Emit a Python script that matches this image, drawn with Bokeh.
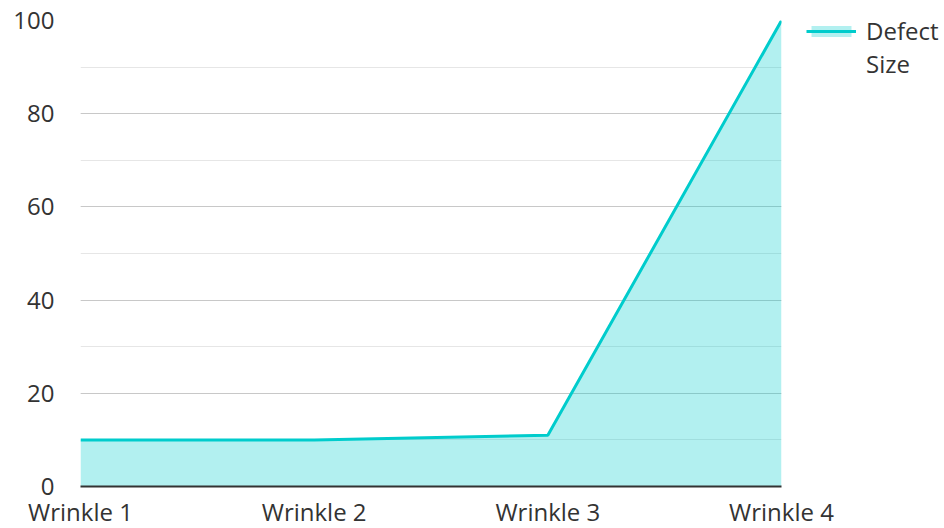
from bokeh.plotting import figure
from bokeh.models import Range1d, FixedTicker, SingleIntervalTicker, Legend, LegendItem, ColumnDataSource
from bokeh.embed import file_html
from bokeh.resources import INLINE

categories = ["Wrinkle 1", "Wrinkle 2", "Wrinkle 3", "Wrinkle 4"]
defect_size = [10, 10, 11, 100]
legend_words = ["Defect", "Size"]

xs = list(range(len(categories)))
src = ColumnDataSource(dict(x=xs, y=defect_size, y0=[0] * len(xs)))

LINE = "#00cccc"
FONT = "Open Sans"

p = figure(frame_width=701, frame_height=466, output_backend="svg", toolbar_location=None,
           x_range=Range1d(0, len(categories) - 1), y_range=Range1d(0, 100),
           min_border_left=80, min_border_top=20, min_border_bottom=42, min_border_right=160)
p.outline_line_color = None
p.background_fill_color = "white"

area = p.varea(x="x", y1="y0", y2="y", source=src, fill_color=LINE, fill_alpha=0.3)
line = p.line(x="x", y="y", source=src, line_color=LINE, line_width=3)
# invisible renderer carrying the wrapped second line of the legend label
blank = p.line(x=[], y=[], line_alpha=0)

p.xaxis.ticker = FixedTicker(ticks=xs)
p.xaxis.major_label_overrides = {i: c for i, c in enumerate(categories)}
p.xaxis.axis_line_color = "#333333"
p.xaxis.axis_line_width = 2
p.xaxis.major_tick_line_color = None
p.xaxis.minor_tick_line_color = None
p.xaxis.major_label_standoff = 2

p.yaxis.ticker = SingleIntervalTicker(interval=20, num_minor_ticks=2)
p.yaxis.axis_line_color = None
p.yaxis.major_tick_line_color = None
p.yaxis.minor_tick_line_color = None
p.yaxis.major_label_standoff = 20

for ax in (p.xaxis, p.yaxis):
    ax.major_label_text_font = FONT
    ax.major_label_text_font_size = "24px"
    ax.major_label_text_color = "#333333"

p.xgrid.grid_line_color = None
p.ygrid.ticker = SingleIntervalTicker(interval=20, num_minor_ticks=2)
p.ygrid.grid_line_color = "#c8c8c8"
p.ygrid.minor_grid_line_color = "#e6e6e6"

legend = Legend(items=[LegendItem(label=legend_words[0], renderers=[area, line]),
                       LegendItem(label=legend_words[1], renderers=[blank])],
                location=(25, 406), margin=0, padding=0, spacing=0, border_line_color=None,
                background_fill_alpha=0, label_height=30,
                glyph_width=50, glyph_height=14, label_standoff=10,
                label_text_font=FONT, label_text_font_size="24px", label_text_color="#333333")
p.add_layout(legend, "right")

open("out.html", "w").write(file_html(p, INLINE))
